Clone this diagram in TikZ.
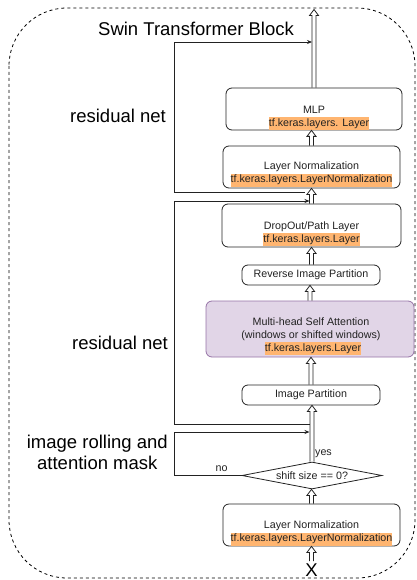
\documentclass[tikz,border=0pt]{standalone}
\usepackage{fontspec}
\setmainfont{Liberation Sans}
\usetikzlibrary{shapes.geometric,calc,arrows.meta}

\definecolor{hlorange}{HTML}{FFB570}
\definecolor{msafill}{HTML}{E1D5E7}
\definecolor{msaline}{HTML}{9673A6}
\definecolor{ink}{HTML}{222222}

% orange highlight behind the Keras class names
\newcommand\hl[1]{{\setlength\fboxsep{0pt}\colorbox{hlorange}{\strut #1}}}
% hollow block arrow from one anchor (below) to another (above)
\newcommand\hollowarrow[2]{%
  \draw[flow] let \p1=#1, \p2=#2 in
    (\x1-2pt,\y1) -- (\x1-2pt,\y2-6pt) -- (\x1-4.5pt,\y2-6pt) -- (\x1,\y2)
    -- (\x1+4.5pt,\y2-6pt) -- (\x1+2pt,\y2-6pt) -- (\x1+2pt,\y1);}

\tikzset{
  box/.style={draw=ink, line width=0.8pt, rounded corners=6pt, fill=white,
    inner sep=0pt, font=\fontsize{10.7}{12.8}\selectfont, text=ink},
  boxtext/.style={inner sep=0pt, align=center,
    font=\fontsize{10.7}{12.8}\selectfont, text=ink},
  small/.style={inner sep=0pt, font=\fontsize{10.7}{12.8}\selectfont, text=ink},
  big/.style={inner sep=0pt, font=\fontsize{18.5}{21.7}\selectfont, text=black},
  flow/.style={draw=ink, line width=0.8pt, line join=miter},
  res/.style={draw=ink, line width=0.8pt, -{Stealth[length=5pt,width=4pt]}},
  frame/.style={draw=black, line width=0.8pt, dash pattern=on 3pt off 3pt,
    rounded corners=58pt},
}

\begin{document}
\begin{tikzpicture}[x=1pt, y=-1pt]
\useasboundingbox (0,0) rectangle (416,580);

% dashed block outline
\draw[frame] (9,8) rectangle (415,578);

% titles and side labels
\node[big, anchor=base] (title) at (196,35.7) {Swin Transformer Block};
\node[big, anchor=base] (res1lbl) at (118,122.5) {residual net};
\node[big, anchor=base] (res2lbl) at (120,349) {residual net};
\node[big, align=center] (rolllbl) at (97.3,454.8)
  {\strut image rolling and\\\strut attention mask};

% blocks
\node[box, minimum width=176pt, minimum height=42pt] (mlp) at (314,109) {};
\node[boxtext] (mlpt) at (314,117.1)
  {\strut MLP\\\hspace*{10pt}\hl{tf.keras.layers. Layer}};

\node[box, minimum width=177pt, minimum height=42pt] (ln2) at (311.5,167) {};
\node[boxtext] (ln2t) at (311.5,173.8)
  {\strut Layer Normalization\\\hl{tf.keras.layers.LayerNormalization}};

\node[box, minimum width=179pt, minimum height=43pt] (drop) at (311.5,225.5) {};
\node[boxtext] (dropt) at (311.5,233.1)
  {\strut DropOut/Path Layer\\\hl{tf.keras.layers.Layer}};

\node[box, minimum width=138pt, minimum height=20pt] (rev) at (311,275)
  {Reverse Image Partition};

\node[box, draw=msaline, fill=msafill, minimum width=208pt, minimum height=56pt]
  (msa) at (310,329) {};
\node[boxtext] (msat) at (311,335.9)
  {\strut Multi-head Self Attention\\\strut (windows or shifted windows)\\\hspace*{4pt}\hl{tf.keras.layers.Layer}};

\node[box, minimum width=138pt, minimum height=20pt] (part) at (311,395)
  {Image Partition};

\node[draw=ink, line width=0.8pt, fill=white, shape=diamond, aspect=5.2,
  inner sep=0pt, minimum width=140pt, minimum height=27pt,
  font=\fontsize{10.7}{12.8}\selectfont, text=ink] (dec) at (312,475.5)
  {shift size == 0?};

\node[box, minimum width=177pt, minimum height=42pt] (ln1) at (311.5,525) {};
\node[boxtext] (ln1t) at (311.5,532.8)
  {\strut Layer Normalization\\\hl{tf.keras.layers.LayerNormalization}};

\node[big, inner sep=2.5pt] (x) at (311.5,570.3) {X};
\coordinate (out) at (314,9.5);

% main data flow
\hollowarrow{(x.north)}{(ln1.south)}
\hollowarrow{(ln1.north)}{(dec.south)}
\hollowarrow{(dec.north)}{(part.south)}
\hollowarrow{(part.north)}{(msa.south)}
\hollowarrow{(msa.north)}{(rev.south)}
\hollowarrow{([xshift=0.5pt]rev.north)}{(drop.south)}
\hollowarrow{(drop.north)}{(ln2.south)}
\hollowarrow{(ln2.north)}{(mlp.south)}
\hollowarrow{(mlp.north)}{(out)}

% skip connections
\coordinate (r1s) at (305,192);
\coordinate (r1e) at (312,42);
\draw[res] (r1s) -- (174,192) |- (r1e);

\coordinate (r2s) at (309.5,424);
\coordinate (r2e) at (309.5,201);
\draw[res] (r2s) -- (174,424) |- (r2e);

% shifted-window branch
\coordinate (r3e) at (309.5,432);
\draw[res] (dec.west) -- (174,475.5) |- (r3e);
\node[small, anchor=base] (nolbl) at (221.5,471) {no};
\node[small, anchor=base] (yeslbl) at (323.5,455.5) {yes};
\end{tikzpicture}
\end{document}
